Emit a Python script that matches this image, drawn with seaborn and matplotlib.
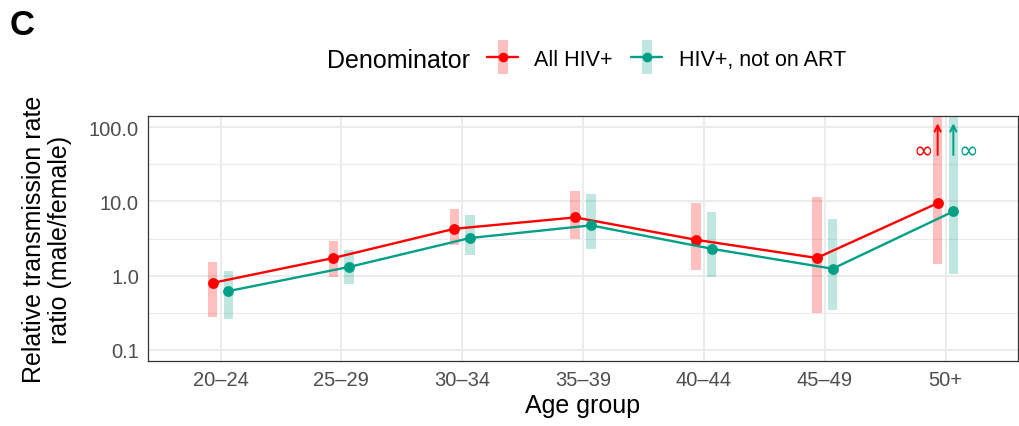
import numpy as np
import pandas as pd
import matplotlib
matplotlib.use("Agg")
import matplotlib.pyplot as plt
from matplotlib.lines import Line2D
from matplotlib.ticker import FixedLocator, NullFormatter
import seaborn as sns

# data
age_groups = ["20–24", "25–29", "30–34", "35–39", "40–44", "45–49", "50+"]
denominators = ["All HIV+", "HIV+, not on ART"]

all_est = [0.80, 1.73, 4.27, 6.08, 3.04, 1.73, 9.46]
all_lo = [0.28, 0.96, 2.61, 3.14, 1.20, 0.31, 1.45]
all_hi = [1.53, 2.90, 7.86, 13.6, 9.46, 11.4, np.inf]

art_est = [0.62, 1.31, 3.21, 4.75, 2.30, 1.24, 7.32]
art_lo = [0.26, 0.77, 1.91, 2.28, 0.95, 0.35, 1.05]
art_hi = [1.16, 2.23, 6.46, 12.5, 7.16, 5.82, np.inf]

y_ticks = [0.1, 1, 10, 100]
y_tick_labels = ["0.1", "1.0", "10.0", "100.0"]

colors = {"All HIV+": "#FF0000", "HIV+, not on ART": "#00A087"}
dodge = {"All HIV+": -0.065, "HIV+, not on ART": 0.065}

# long format table
rows = []
for den, est, lo, hi in [("All HIV+", all_est, all_lo, all_hi),
                         ("HIV+, not on ART", art_est, art_lo, art_hi)]:
    for i, age in enumerate(age_groups):
        rows.append(dict(age=age, denom=den, x=i + dodge[den],
                         est=est[i], lo=lo[i], hi=hi[i]))
df = pd.DataFrame(rows)

sns.set_style("white")
plt.rcParams["font.family"] = ["Liberation Sans", "DejaVu Sans"]
plt.rcParams["text.color"] = "black"
plt.rcParams["axes.labelcolor"] = "black"

fig = plt.figure(figsize=(10.2, 4.27), dpi=100)
ax = fig.add_axes([148 / 1020, 1 - 362 / 427, (1018 - 148) / 1020, (362 - 117) / 427])
ax.set_yscale("log")

# confidence intervals as pale bars
for den in denominators:
    sub = df[df.denom == den]
    top = np.where(np.isinf(sub.hi), 1e3, sub.hi)
    ax.bar(sub.x, top - sub.lo, bottom=sub.lo, width=0.078,
           color=colors[den], alpha=0.25, linewidth=0, zorder=2)

sns.lineplot(data=df, x="x", y="est", hue="denom", palette=colors,
             marker="o", markersize=7.8, markeredgewidth=0, linewidth=1.7,
             errorbar=None, legend=False, ax=ax, zorder=3)

# arrows + infinity marks for unbounded upper limits
for den, ha, dx in [("All HIV+", "right", -0.04), ("HIV+, not on ART", "left", 0.04)]:
    sub = df[(df.denom == den) & np.isinf(df.hi)]
    for _, r in sub.iterrows():
        ax.annotate("", xy=(r.x, 112), xytext=(r.x, 42),
                    arrowprops=dict(arrowstyle="->", color=colors[den], lw=1.4,
                                    mutation_scale=11, shrinkA=0, shrinkB=0),
                    zorder=4)
        ax.text(r.x + dx, 48, "∞", color=colors[den], ha=ha, va="center",
                fontsize=17, family=["DejaVu Sans"])

# axes styling (theme_bw like)
ax.set_xlim(-0.6, len(age_groups) - 0.4)
ax.set_ylim(10 ** -1.148, 10 ** 2.148)
ax.set_xticks(range(len(age_groups)))
ax.set_xticklabels(age_groups)
ax.yaxis.set_major_locator(FixedLocator(y_ticks))
ax.set_yticklabels(y_tick_labels)
ax.yaxis.set_minor_locator(FixedLocator([10 ** -0.5, 10 ** 0.5, 10 ** 1.5]))
ax.yaxis.set_minor_formatter(NullFormatter())
ax.grid(True, which="major", color="#EBEBEB", linewidth=1.4, zorder=0)
ax.grid(True, which="minor", axis="y", color="#EBEBEB", linewidth=0.8, zorder=0)
ax.set_axisbelow(True)
ax.tick_params(axis="both", which="major", length=3.5, width=0.9, color="#333333",
               labelcolor="#4D4D4D", labelsize=14.5, pad=3)
ax.tick_params(axis="y", which="minor", length=0)
for s in ax.spines.values():
    s.set_color("#333333")
    s.set_linewidth(0.9)

ax.set_xlabel("Age group", fontsize=18, labelpad=3)
ax.set_ylabel("Relative transmission rate\nratio (male/female)", fontsize=18,
              linespacing=1.1)
ax.yaxis.set_label_coords(-0.087, 0.5)

# legend on top
fig.text(327 / 1020, 1 - 60.5 / 427, "Denominator", fontsize=18, va="center", ha="left")
handles = []
for den in denominators:
    band = Line2D([], [], marker="|", markersize=25, markeredgewidth=7.2,
                  color=colors[den], alpha=0.25, linestyle="none")
    line = Line2D([], [], marker="o", markersize=7, color=colors[den],
                  linewidth=1.7, markeredgewidth=0)
    handles.append((band, line))
fig.legend(handles, denominators, loc="center left",
           bbox_to_anchor=(487 / 1020, 1 - 60.5 / 427), ncol=2, frameon=False,
           fontsize=15.5, handlelength=1.45, handletextpad=0.75, columnspacing=0.85,
           borderpad=0, borderaxespad=0)

fig.text(10 / 1020, 1 - 9 / 427, "C", fontsize=25, fontweight="bold", va="top", ha="left")

fig.savefig("out.png", dpi=100)
